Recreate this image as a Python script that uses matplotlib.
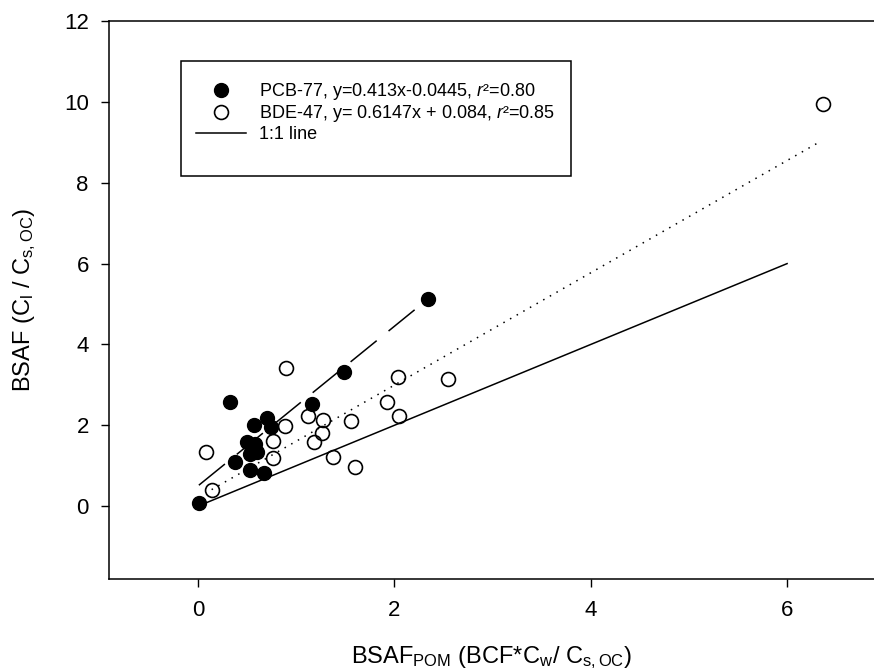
import numpy as np
import matplotlib
matplotlib.use("Agg")
import matplotlib.pyplot as plt
from matplotlib.lines import Line2D
from matplotlib.patches import Rectangle

plt.rcParams['font.family'] = ['Liberation Sans', 'DejaVu Sans']
plt.rcParams['mathtext.fontset'] = 'custom'
plt.rcParams['mathtext.rm'] = 'Liberation Sans'
plt.rcParams['mathtext.it'] = 'Liberation Sans:italic'

# PCB-77 (filled) and BDE-47 (open) BSAF values
pcb_x = [0.01, 0.33, 0.57, 0.70, 0.74, 0.50, 0.58, 0.55, 0.60, 0.53, 0.38, 0.53, 0.67, 1.16, 1.49, 2.34]
pcb_y = [0.08, 2.58, 2.02, 2.18, 1.95, 1.58, 1.55, 1.40, 1.35, 1.30, 1.10, 0.89, 0.81, 2.54, 3.32, 5.12]

bde_x = [0.08, 0.14, 0.77, 0.77, 0.89, 0.90, 1.12, 1.27, 1.18, 1.26, 1.38, 1.56, 1.60, 1.93, 2.04, 2.05, 2.55, 6.37]
bde_y = [1.34, 0.41, 1.61, 1.20, 1.98, 3.41, 2.24, 2.13, 1.60, 1.80, 1.22, 2.10, 0.98, 2.58, 3.20, 2.24, 3.14, 9.94]

# fitted lines as drawn (slope, intercept, x-range)
pcb_fit = (1.974, 0.50)
pcb_fit_x = [0.01, 2.34]
bde_fit = (1.389, 0.216)
bde_fit_x = [0.14, 6.34]
one_to_one_x = [0, 6]

pcb_label = r'PCB-77, y=0.413x-0.0445, $\mathit{r}$²=0.80'
bde_label = r'BDE-47, y= 0.6147x + 0.084, $\mathit{r}$²=0.85'

fig = plt.figure(figsize=(8.74, 6.71), dpi=100)
ax = fig.add_axes([109/874, 1-579/671, 765/874, 558/671])

x1 = np.array(one_to_one_x)
ax.plot(x1, x1, color='black', lw=1.1, zorder=2)
xp = np.array(pcb_fit_x)
ax.plot(xp, pcb_fit[0]*xp + pcb_fit[1], color='black', lw=1.1, dashes=(22, 10), zorder=2)
xb = np.array(bde_fit_x)
ax.plot(xb, bde_fit[0]*xb + bde_fit[1], color='black', lw=1.1, linestyle=(0, (1, 4)), zorder=2)

ax.plot(pcb_x, pcb_y, 'o', ms=10, mfc='black', mec='black', mew=1, zorder=3)
ax.plot(bde_x, bde_y, 'o', ms=10, mfc='none', mec='black', mew=1.2, zorder=4)

ax.set_xlim(-0.905, 6.885)
ax.set_ylim(-1.8, 12)
ax.set_xticks([0, 2, 4, 6])
ax.set_yticks([0, 2, 4, 6, 8, 10, 12])
ax.tick_params(direction='out', length=6, width=1, labelsize=16)
ax.tick_params(axis='x', pad=9)
ax.tick_params(axis='y', pad=8.5)
ax.spines['right'].set_visible(False)
for s in ['left', 'top', 'bottom']:
    ax.spines[s].set_linewidth(1.1)

ax.set_xlabel(r'BSAF$_{\mathrm{POM}}$ (BCF*C$_{\mathrm{w}}$/ C$_{\mathrm{s,OC}}$)', fontsize=17, labelpad=17)
ax.set_ylabel(r'BSAF (C$_{\mathrm{l}}$ / C$_{\mathrm{s,OC}}$)', fontsize=17, labelpad=19)

# legend box
ax.add_patch(Rectangle((181, 671-176), 390, 115, transform=None, fill=False,
                       edgecolor='black', lw=1.1, zorder=5))
handles = [
    Line2D([], [], ls='none', marker='o', ms=10, mfc='black', mec='black'),
    Line2D([], [], ls='none', marker='o', ms=10, mfc='none', mec='black', mew=1.2),
    Line2D([], [], color='black', lw=1.1),
]
ax.legend(handles, [pcb_label, bde_label, '1:1 line'], loc='upper left',
          bbox_to_anchor=(196/874, 1-81/671), bbox_transform=fig.transFigure,
          frameon=False, fontsize=13, borderpad=0, labelspacing=0.08,
          handlelength=2.77, handletextpad=0.72, borderaxespad=0)

fig.savefig('out.png', dpi=100)
